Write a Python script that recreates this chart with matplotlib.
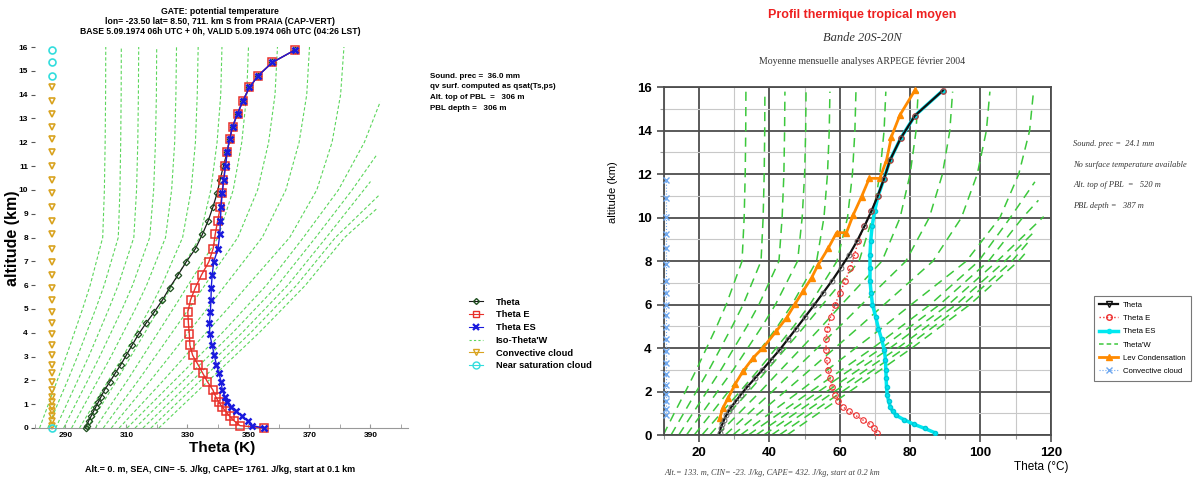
import matplotlib
matplotlib.use("Agg")
import matplotlib.pyplot as plt
from matplotlib.lines import Line2D

SANS = ["Liberation Sans", "DejaVu Sans"]
SERIF = ["Liberation Serif", "DejaVu Serif"]
plt.rcParams["font.family"] = SANS

# ---------------- left panel data (GATE, theta in K) ----------------
lev_l = [0.0, 0.1, 0.3, 0.5, 0.7, 0.9, 1.1, 1.3, 1.6, 1.95, 2.3, 2.65, 3.05,
         3.47, 3.93, 4.4, 4.87, 5.38, 5.9, 6.43, 6.98, 7.53, 8.14, 8.71, 9.3,
         9.86, 10.42, 11.02, 11.57, 12.13, 12.66, 13.2, 13.75, 14.3, 14.8,
         15.35, 15.88]
theta_l = [296.6, 296.9, 297.6, 298.4, 299.2, 300.0, 300.8, 301.6, 302.8,
           304.6, 306.3, 308.1, 309.9, 311.8, 313.9, 316.4, 319.1, 321.8,
           324.2, 326.9, 329.6, 332.6, 334.9, 336.8, 338.4, 339.7, 340.7,
           341.8, 343.0, 343.8, 344.8, 346.4, 348.2, 350.3, 353.2, 357.8,
           365.3]
thetae_l = [355.0, 347.2, 345.3, 343.8, 342.5, 341.3, 340.2, 339.3, 338.3,
            336.5, 335.0, 333.5, 331.7, 330.8, 330.6, 330.3, 330.1, 331.0,
            332.6, 334.6, 337.0, 338.4, 339.1, 339.9, 340.8, 341.3, 341.8,
            342.4, 343.0, 343.8, 344.8, 346.4, 348.2, 350.3, 353.2, 357.8,
            365.3]
thetaes_l = [355.0, 351.3, 349.8, 347.8, 346.0, 344.4, 343.1, 342.3, 341.4,
             341.0, 340.3, 339.5, 338.8, 338.1, 337.3, 337.2, 337.5, 337.7,
             337.8, 338.1, 338.6, 340.0, 340.6, 340.8, 341.0, 341.4, 341.9,
             342.5, 343.0, 343.8, 344.8, 346.4, 348.2, 350.3, 353.2, 357.8,
             365.3]
cloud_theta_l = 285.5
conv_l_z = [0.1, 0.3, 0.5, 0.7, 0.9, 1.1, 1.3, 1.6, 1.95, 2.3, 2.65, 3.05,
            3.47, 3.93, 4.4, 4.87, 5.38, 5.9, 6.43, 6.98, 7.53, 8.14, 8.71,
            9.3, 9.86, 10.42, 11.02, 11.57, 12.13, 12.66, 13.2, 13.75, 14.3]
sat_l_z = [0.0, 14.8, 15.35, 15.88]

# iso-theta'w curves (theta at each height of iso_l_z)
iso_l_z = [0, 1, 2, 3, 4, 5, 6, 8, 10, 12, 14, 16]
iso_l_top = [
    [281.5, 284.4, 287.3, 290.2, 292.9, 295.6, 298.1, 302.2, 302.75, 303.0, 303.15, 303.2],
    [284.2, 287.4, 290.7, 293.9, 296.9, 299.9, 302.7, 307.3, 307.85, 308.1, 308.25, 308.3],
    [286.8, 290.4, 294.0, 297.6, 300.9, 304.2, 307.3, 312.4, 313.3, 313.7, 313.9, 314.0],
    [289.4, 293.3, 297.3, 301.2, 304.9, 308.6, 312.0, 317.6, 318.9, 319.5, 319.8, 319.9],
    [292.0, 296.3, 300.6, 304.9, 308.9, 312.9, 316.6, 322.8, 324.8, 325.8, 326.2, 326.4],
    [294.6, 299.3, 304.1, 308.8, 313.2, 317.6, 321.6, 328.4, 331.2, 332.6, 333.2, 333.5],
    [297.2, 302.0, 306.8, 311.4, 316.0, 320.6, 325.0, 334.0, 337.65, 339.7, 340.9, 341.3],
    [299.8, 305.0, 310.3, 315.3, 320.3, 325.3, 330.2, 340.0, 345.0, 347.8, 349.4, 350.0],
    [302.4, 308.1, 313.9, 319.4, 324.9, 330.4, 335.7, 346.5, 353.0, 356.6, 358.7, 359.5],
    [305.0, 311.4, 317.9, 324.1, 330.2, 336.4, 342.4, 354.5, 362.25, 366.6, 369.1, 370.0],
    [307.6, 314.9, 322.1, 329.1, 336.1, 343.1, 349.8, 363.5, 372.4, 377.4, 380.2, 381.3],
]
iso_l_edge = [
    ([0, 2, 4, 6, 8, 10, 12, 13.7], [310.2, 325.8, 341.4, 355.9, 368.0, 379.5, 388.0, 393.2]),
    ([0, 2, 4, 6, 8, 10, 11.5], [312.8, 328.8, 344.8, 359.6, 372.0, 384.0, 392.2]),
    ([0, 2, 4, 6, 8, 10.35], [315.4, 331.6, 347.9, 362.9, 375.5, 390.0]),
    ([0, 2, 4, 6, 8, 9.8], [318.0, 334.3, 350.7, 365.8, 378.5, 393.0]),
    ([0, 2, 4, 6, 8, 9.2], [320.6, 337.0, 353.5, 368.7, 381.5, 392.0]),
]

# ---------------- right panel data (tropical mean, theta in C) ----------------
lev_r = [0.1, 0.3, 0.5, 0.7, 0.9, 1.1, 1.3, 1.55, 1.85, 2.2, 2.6, 3.0, 3.45,
         3.9, 4.4, 4.9, 5.45, 6.0, 6.55, 7.1, 7.7, 8.3, 8.95, 9.6, 10.3, 11.0,
         11.8, 12.65, 13.65, 14.7, 15.85]
theta_r = [25.8, 26.1, 26.6, 27.1, 27.7, 28.4, 29.2, 30.4, 31.8, 33.6, 35.8,
           38.0, 40.4, 42.8, 45.2, 47.6, 50.2, 52.8, 55.3, 57.8, 60.3, 62.7,
           65.0, 67.0, 69.0, 70.8, 72.6, 74.3, 77.3, 81.4, 89.3]
thetae_r = [70.5, 69.8, 68.5, 66.5, 64.5, 62.5, 60.9, 59.6, 58.6, 57.9, 57.2,
            56.7, 56.3, 56.1, 56.1, 56.5, 57.4, 58.7, 60.0, 61.6, 63.0, 64.2,
            65.3, 66.9, 68.9, 70.8, 72.6, 74.3, 77.3, 81.4, 89.3]
thetaes_r = [87.1, 84.2, 81.0, 78.3, 76.1, 75.0, 74.4, 73.9, 73.5, 73.3, 73.2,
             73.1, 73.0, 72.7, 71.9, 71.0, 70.2, 69.3, 68.9, 68.6, 68.6, 68.6,
             68.8, 69.2, 69.9, 70.9, 72.6, 74.3, 77.3, 81.4, 89.3]
lcl_z = [0.8, 1.26, 1.72, 2.33, 2.94, 3.56, 4.02, 4.79, 5.4, 6.01, 6.63, 7.24,
         7.82, 8.59, 9.31, 9.31, 10.12, 10.97, 11.81, 11.81, 12.65, 13.73,
         14.72, 15.87]
lcl_theta = [25.9, 26.8, 28.3, 30.2, 32.5, 35.4, 38.2, 42.0, 44.9, 47.2, 49.6,
             52.0, 53.8, 56.7, 59.1, 61.9, 63.8, 66.2, 68.4, 71.4, 73.3, 74.7,
             77.1, 81.4]
cloud_theta_r = 10.7
conv_r_z = [0.9, 1.2, 1.55, 1.9, 2.3, 2.8, 3.3, 3.85, 4.4, 4.95, 5.5, 6.0,
            6.55, 7.1, 7.85, 8.6, 9.25, 10.05, 10.9, 11.75]

iso_r_z = [0, 1, 2, 3, 4, 5, 6, 8, 10, 12, 14, 15.8]
iso_r_top = [
    [9.8, 12.9, 16.1, 19.2, 22.1, 25.0, 27.7, 32.2, 32.8, 33.1, 33.25, 33.3],
    [12.0, 15.6, 19.2, 22.8, 26.1, 29.4, 32.5, 37.6, 38.2, 38.5, 38.65, 38.7],
    [14.2, 18.2, 22.2, 26.2, 29.9, 33.6, 37.0, 42.7, 43.6, 44.1, 44.3, 44.4],
    [16.4, 20.8, 25.2, 29.7, 33.8, 37.9, 41.7, 48.0, 49.3, 50.0, 50.3, 50.4],
    [18.6, 23.5, 28.3, 33.2, 37.7, 42.3, 46.4, 53.4, 55.5, 56.5, 57.0, 57.2],
    [20.8, 26.2, 31.6, 36.9, 41.9, 46.9, 51.5, 59.2, 62.2, 63.6, 64.3, 64.6],
    [23.0, 28.5, 34.1, 39.4, 44.7, 50.0, 55.1, 65.5, 69.3, 71.4, 72.6, 73.1],
    [25.2, 31.3, 37.4, 43.2, 49.1, 54.9, 60.5, 72.0, 77.15, 80.0, 81.7, 82.3],
    [27.4, 34.1, 40.8, 47.2, 53.6, 60.0, 66.2, 78.8, 85.45, 89.2, 91.3, 92.1],
    [29.6, 37.0, 44.4, 51.5, 58.6, 65.7, 72.6, 86.5, 94.6, 99.1, 101.7, 102.7],
    [31.8, 40.1, 48.5, 56.5, 64.5, 72.6, 80.3, 96.0, 105.55, 110.9, 114.0, 115.1],
]
iso_r_edge = [
    ([0, 2, 4, 6, 8, 10, 11.65], [34.0, 51.7, 69.4, 85.7, 99.5, 108.5, 115.5]),
    ([0, 2, 4, 6, 8, 10, 10.8], [36.2, 54.0, 71.9, 88.4, 102.3, 112.0, 116.5]),
    ([0, 2, 4, 6, 8, 10.05], [38.4, 56.3, 74.3, 90.9, 104.8, 118.0]),
    ([0, 2, 4, 6, 8, 9.3], [40.6, 58.5, 76.5, 93.1, 107.0, 115.0]),
    ([0, 2, 4, 6, 8, 8.95], [42.8, 60.7, 78.5, 95.1, 109.0, 114.0]),
    ([0, 2, 4, 6, 8, 8.5], [45.0, 62.8, 80.5, 97.0, 110.8, 113.5]),
]

W, H = 1197, 480
fig = plt.figure(figsize=(W / 100, H / 100), dpi=100)


def px_axes(x0, y0, x1, y1):
    """Axes rectangle from pixel box (top-left origin)."""
    return [x0 / W, 1 - y1 / H, (x1 - x0) / W, (y1 - y0) / H]


def ftext(x, y, s, **kw):
    kw.setdefault("ha", "left")
    kw.setdefault("va", "center")
    fig.text(x / W, 1 - y / H, s, **kw)


# ================= left panel =================
axl = fig.add_axes(px_axes(35, 47, 408, 428))
axl.set_xlim(281.2, 402.3)
axl.set_ylim(0, 16)

GREEN_L = "#5cd65c"
for th in iso_l_top:
    axl.plot(th, iso_l_z, color=GREEN_L, lw=0.8, dashes=(3, 2))
for zz, th in iso_l_edge:
    axl.plot(th, zz, color=GREEN_L, lw=0.8, dashes=(3, 2))

axl.plot(theta_l, lev_l, color="#1a1a1a", lw=0.9, marker="D", ms=3.3,
         mfc="none", mec="#1f4f1f", mew=0.9, clip_on=False, zorder=4)
axl.plot(thetae_l, lev_l, color="#e8302a", lw=1.0, marker="s", ms=5.5,
         mfc="none", mew=1.1, clip_on=False, zorder=4)
axl.plot(thetaes_l, lev_l, color="#1a1add", lw=1.0, marker="x", ms=4.5,
         mew=1.8, clip_on=False, zorder=5)
axl.plot([cloud_theta_l] * len(conv_l_z), conv_l_z, ls="none", marker="v",
         ms=5, mfc="none", mec="#d9a320", mew=1.2, clip_on=False)
axl.plot([cloud_theta_l] * len(sat_l_z), sat_l_z, ls="none", marker="o",
         ms=5, mfc="none", mec="#33dddd", mew=1.2, clip_on=False)

axl.set_xticks(range(290, 400, 20))
axl.set_xticks(range(280, 401, 10), minor=True)
axl.set_yticks(range(0, 17))
for s in ("top", "right", "left"):
    axl.spines[s].set_visible(False)
axl.spines["bottom"].set_color("#999999")
axl.tick_params(axis="x", which="both", direction="in", length=3,
                color="#999999", labelsize=6, pad=3)
axl.tick_params(axis="y", direction="out", length=3, color="#555555",
                labelsize=6, pad=2)
for lab in axl.get_xticklabels() + axl.get_yticklabels():
    lab.set_fontweight("bold")

ftext(220, 12, "GATE: potential temperature", ha="center", fontsize=6.2, weight="bold")
ftext(220, 22, "lon= -23.50 lat= 8.50, 711. km S from PRAIA (CAP-VERT)",
      ha="center", fontsize=6.2, weight="bold")
ftext(220, 32, "BASE 5.09.1974 06h UTC + 0h, VALID 5.09.1974 06h UTC (04:26 LST)",
      ha="center", fontsize=6.2, weight="bold")
ftext(222, 448, "Theta (K)", ha="center", fontsize=11, weight="bold")
ftext(13, 238, "altitude (km)", ha="center", fontsize=11.5, weight="bold",
      rotation=90)
ftext(220, 469, "Alt.= 0. m, SEA, CIN= -5. J/kg, CAPE= 1761. J/kg, start at 0.1 km",
      ha="center", fontsize=6.5, weight="bold")

info_l = ["Sound. prec =  36.0 mm", "qv surf. computed as qsat(Ts,ps)",
          "Alt. top of PBL  =   306 m", "PBL depth =   306 m"]
for i, s in enumerate(info_l):
    ftext(430, 76 + i * 10.7, s, fontsize=5.8, weight="bold")

hl = [
    Line2D([], [], color="#1a1a1a", lw=0.8, marker="D", ms=3, mfc="none", mec="#1f4f1f"),
    Line2D([], [], color="#e8302a", lw=0.8, marker="s", ms=5, mfc="none"),
    Line2D([], [], color="#1a1add", lw=0.8, marker="x", ms=4, mew=1.6),
    Line2D([], [], color=GREEN_L, lw=0.8, dashes=(2, 2)),
    Line2D([], [], color="#d9a320", lw=0.8, marker="v", ms=5, mfc="none"),
    Line2D([], [], color="#33dddd", lw=0.8, marker="o", ms=5, mfc="none"),
]
fig.legend(hl, ["Theta", "Theta E", "Theta ES", "Iso-Theta'W", "Convective cloud",
                "Near saturation cloud"],
           loc="upper left", bbox_to_anchor=(464 / W, 1 - 293 / H), frameon=False,
           prop={"size": 6.7, "weight": "bold"}, handlelength=1.5,
           labelspacing=0.4, borderpad=0, handletextpad=1.4)

# ================= right panel =================
axr = fig.add_axes(px_axes(664, 87.3, 1050.7, 435))
axr.set_xlim(10, 120)
axr.set_ylim(0, 16)
axr.set_xticks(range(20, 121, 20))
axr.set_xticks(range(10, 120, 20), minor=True)
axr.set_yticks(range(0, 17, 2))
axr.set_yticks(range(1, 16, 2), minor=True)
axr.grid(which="major", color="#4d4d4d", lw=1.3)
axr.grid(which="minor", color="#c8c8c8", lw=0.8)
axr.set_axisbelow(True)
for s in axr.spines.values():
    s.set_color("#4d4d4d")
    s.set_linewidth(1.3)
axr.tick_params(which="major", direction="out", length=5, width=1.2,
                color="#4d4d4d", labelsize=9.5, pad=4)
axr.tick_params(which="minor", direction="out", length=3, width=0.8,
                color="#999999")
for lab in axr.get_xticklabels() + axr.get_yticklabels():
    lab.set_fontweight("bold")

GREEN_R = "#3cc83c"
for th in iso_r_top:
    axr.plot(th, iso_r_z, color=GREEN_R, lw=1.1, dashes=(6, 4))
for zz, th in iso_r_edge:
    axr.plot(th, zz, color=GREEN_R, lw=1.1, dashes=(6, 4))

axr.plot([cloud_theta_r] * len(conv_r_z), conv_r_z, color="#6fa8f0", ls=":",
         lw=0.8, marker="x", ms=4, mew=1.0, clip_on=False, zorder=4)
axr.plot(thetaes_r, lev_r, color="#00e8f0", lw=2.5, marker="o", ms=3,
         mec="#00c8d8", zorder=4)
axr.plot(thetae_r, lev_r, color="#ee3030", ls=":", lw=1.0, marker="o", ms=4,
         mfc="none", mew=0.8, zorder=5)
axr.plot(lcl_theta, lcl_z, color="#ff8a00", lw=2.0, marker="^", ms=4, zorder=5)
axr.plot(theta_r, lev_r, color="#111111", lw=1.6, marker="o", ms=3.5,
         mfc="none", mec="#666666", mew=0.7, zorder=6)

ftext(862, 15, "Profil thermique tropical moyen", ha="center", fontsize=9,
      weight="bold", color="#ee2020")
ftext(862, 38, "Bande 20S-20N", ha="center", fontsize=9, style="italic",
      family=SERIF, color="#333333")
ftext(862, 61, "Moyenne mensuelle analyses ARPEGE février 2004", ha="center",
      fontsize=7, family=SERIF, color="#333333")
ftext(613, 192, "altitude (km)", ha="center", fontsize=8, rotation=90)
ftext(1041, 467, "Theta (°C)", ha="center", fontsize=8.5)
ftext(664, 473, "Alt.= 133. m, CIN= -23. J/kg, CAPE= 432. J/kg, start at 0.2 km",
      fontsize=6, style="italic", family=SERIF, color="#444444")

info_r = ["Sound. prec =  24.1 mm", "No surface temperature available",
          "Alt. top of PBL  =   520 m", "PBL depth =   387 m"]
for i, s in enumerate(info_r):
    ftext(1073, 144 + i * 20.7, s, fontsize=6, style="italic", family=SERIF,
          color="#333333")

hr = [
    Line2D([], [], color="#111111", lw=1.6, marker="v", ms=4, mfc="none", mec="#111111"),
    Line2D([], [], color="#ee3030", ls=":", lw=1.0, marker="o", ms=4, mfc="none"),
    Line2D([], [], color="#00e8f0", lw=2.5, marker="o", ms=3),
    Line2D([], [], color=GREEN_R, lw=1.1, dashes=(3, 2)),
    Line2D([], [], color="#ff8a00", lw=2.0, marker="^", ms=4),
    Line2D([], [], color="#6fa8f0", ls=":", lw=0.8, marker="x", ms=4),
]
leg = fig.legend(hr, ["Theta", "Theta E", "Theta ES", "Theta'W", "Lev Condensation",
                      "Convective cloud"],
                 loc="upper left", bbox_to_anchor=(1090 / W, 1 - 292 / H),
                 frameon=True, fancybox=False, edgecolor="#555555",
                 prop={"size": 5.6}, handlelength=2.4, labelspacing=0.75,
                 borderpad=0.7, handletextpad=0.6)
leg.get_frame().set_linewidth(0.8)

fig.savefig("out.png", dpi=100)
